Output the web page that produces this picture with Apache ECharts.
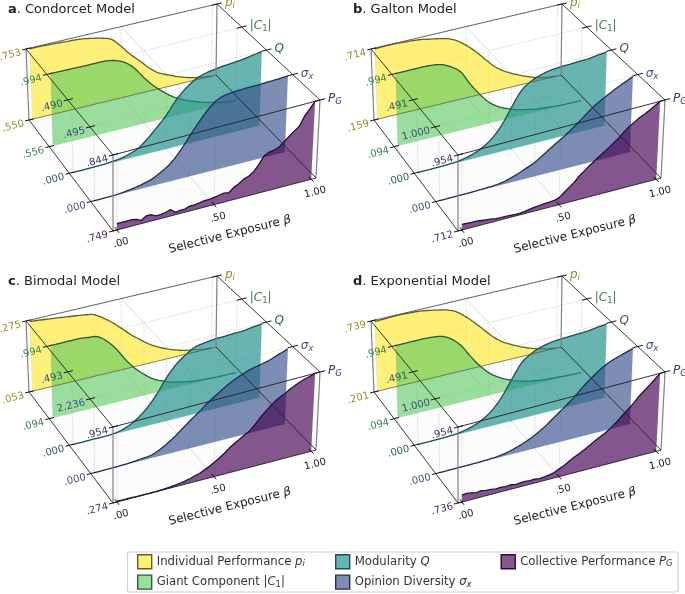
<!DOCTYPE html>
<html><head><meta charset="utf-8">
<style>html,body{margin:0;padding:0;background:#fff}#c{width:685px;height:594px}</style>
<script src="https://cdn.jsdelivr.net/npm/echarts@6/dist/echarts.min.js"></script>
</head><body><div id="c"></div>
<script>
// ---------- data ----------
const beta=[0,.05,.1,.15,.2,.25,.3,.35,.4,.45,.5,.55,.6,.65,.7,.75,.8,.85,.9,.95,1];
const betaFine=[0,.025,.05,.075,.1,.125,.15,.175,.2,.225,.25,.275,.3,.325,.35,.375,.4,.425,.45,.475,.5,.525,.55,.575,.6,.625,.65,.675,.7,.725,.75,.775,.8,.825,.85,.875,.9,.925,.95,.975,1];

const a_pi=[.751,.751,.750,.749,.747,.746,.743,.738,.732,.722,.696,.667,.643,.617,.597,.585,.574,.565,.558,.553,.550];
const a_c1=[.994,.993,.992,.991,.990,.990,.988,.976,.950,.902,.832,.771,.722,.679,.648,.624,.604,.587,.574,.563,.556];
const a_q=[0,0,0,.001,.005,.012,.027,.051,.100,.159,.225,.306,.368,.412,.436,.448,.456,.461,.468,.478,.488];
const a_s=[0,0,.001,.006,.015,.027,.045,.077,.119,.186,.270,.351,.421,.465,.478,.483,.485,.485,.488,.490,.495];
const a_pg=[.757,.757,.757,.757,.756,.753,.757,.757,.754,.754,.755,.757,.752,.753,.753,.755,.755,.756,.757,.757,.758,.759,.760,.759,.764,.767,.771,.773,.777,.784,.793,.796,.797,.799,.804,.809,.814,.818,.829,.836,.844];

const b_pi=[.708,.711,.711,.708,.703,.697,.683,.670,.653,.620,.567,.503,.428,.356,.303,.264,.231,.203,.181,.167,.159];
const b_c1=[.994,.994,.994,.994,.985,.963,.904,.814,.634,.481,.355,.274,.220,.180,.153,.130,.117,.105,.099,.097,.094];
const b_q=[0,0,0,.002,.005,.015,.032,.061,.106,.177,.275,.368,.415,.442,.457,.464,.466,.469,.471,.479,.486];
const b_s=[0,0,0,.002,.005,.010,.017,.040,.080,.130,.185,.265,.350,.430,.520,.620,.725,.800,.870,.930,.990];
const b_pg=[.730,.729,.728,.728,.726,.724,.722,.720,.719,.719,.718,.717,.717,.719,.722,.724,.725,.727,.728,.729,.734,.746,.758,.770,.785,.797,.809,.820,.831,.841,.852,.863,.874,.889,.901,.910,.920,.927,.935,.944,.954];

const c_pi=[.271,.268,.265,.262,.258,.255,.251,.245,.228,.207,.182,.156,.134,.113,.097,.084,.074,.066,.061,.056,.053];
const c_c1=[.994,.994,.994,.994,.981,.963,.882,.756,.594,.459,.355,.270,.216,.175,.148,.126,.112,.105,.099,.097,.094];
const c_q=[0,0,0,0,.001,.010,.032,.069,.123,.197,.288,.360,.409,.446,.458,.466,.468,.471,.473,.481,.488];
const c_s=[0,0,.004,.011,.027,.056,.089,.212,.380,.593,.816,1.029,1.252,1.442,1.621,1.755,1.867,1.934,2.001,2.102,2.202];
const c_pg=[.281,.279,.279,.278,.277,.277,.277,.277,.277,.279,.281,.284,.288,.294,.301,.311,.325,.335,.356,.376,.400,.427,.458,.492,.522,.546,.573,.594,.634,.682,.723,.764,.798,.825,.845,.872,.893,.913,.927,.940,.954];

const d_pi=[.728,.731,.734,.734,.731,.726,.715,.701,.685,.653,.599,.535,.465,.397,.346,.309,.276,.249,.228,.212,.201];
const d_c1=[.994,.994,.994,.994,.985,.967,.904,.796,.634,.490,.373,.292,.234,.189,.157,.135,.121,.112,.105,.099,.094];
const d_q=[0,0,0,.002,.005,.015,.032,.061,.106,.177,.272,.365,.412,.440,.455,.462,.465,.468,.471,.479,.486];
const d_s=[0,0,0,.002,.004,.008,.015,.035,.070,.115,.175,.250,.345,.440,.540,.660,.760,.850,.910,.950,.990];
const d_pg=[.756,.757,.755,.752,.754,.751,.750,.748,.749,.747,.749,.746,.747,.748,.746,.747,.745,.746,.748,.751,.758,.764,.772,.780,.786,.793,.801,.809,.817,.824,.832,.843,.854,.867,.878,.891,.906,.917,.929,.941,.954];

const a_low=[.550,.556,0,0,.749],   a_high=[.753,.994,.490,.495,.844];
const b_low=[.159,.094,0,0,.712],   b_high=[.714,.994,.491,1.000,.954];
const c_low=[.053,.094,0,0,.274],   c_high=[.275,.994,.493,2.236,.954];
const d_low=[.201,.094,0,0,.736],   d_high=[.739,.994,.491,1.000,.954];
const a_lowText=['.550','.556','.000','.000','.749'], a_highText=['.753','.994','.490','.495','.844'];
const b_lowText=['.159','.094','.000','.000','.712'], b_highText=['.714','.994','.491','1.000','.954'];
const c_lowText=['.053','.094','.000','.000','.274'], c_highText=['.275','.994','.493','2.236','.954'];
const d_lowText=['.201','.094','.000','.000','.736'], d_highText=['.739','.994','.491','1.000','.954'];
const betaTicks=[0,.5,1], betaTickText=['.00','.50','1.00'];
const seriesNames=['Individual Performance','Giant Component','Modularity','Opinion Diversity','Collective Performance'];
const panelTitles=['Condorcet Model','Galton Model','Bimodal Model','Exponential Model'];
const panelKeys=['a','b','c','d'];

// ---------- styling and geometry ----------
const fills=['rgba(253,231,37,.62)','rgba(94,201,98,.62)','rgba(33,145,140,.68)','rgba(59,82,139,.66)','rgba(68,1,84,.66)'];
const edges=['#6b5f14','#245c35','#17505a','#1c2e5c','#2b0a3f'];
const textCols=['#9a8a28','#3f7f4d','#2c6068','#3d4f80','#4b2a68'];
const depths=[0,.24,.48,.735,1];
const offX=[0,345,0,345], offY=[0,0,272,272];
const BOX={blt:[26,49],blb:[29,120],brt:[217,4],brb:[216,75],flt:[113,155],flb:[113,231],frt:[320,100],frb:[316,178]};
const XMIN=-.02,XMAX=1.025;
const lerp=(a,b,t)=>[a[0]+(b[0]-a[0])*t,a[1]+(b[1]-a[1])*t];
function proj(p,u,d,z){
  const bt=lerp(BOX.blt,BOX.brt,u),bb=lerp(BOX.blb,BOX.brb,u),ft=lerp(BOX.flt,BOX.frt,u),fb=lerp(BOX.flb,BOX.frb,u);
  const t=lerp(bt,ft,d),b=lerp(bb,fb,d),q=lerp(b,t,z);
  return [q[0]+offX[p],q[1]+offY[p]];
}
const uOf=x=>(x-XMIN)/(XMAX-XMIN);
function spline(pts,n){
  const out=[];
  for(let i=0;i<pts.length-1;i++){
    const p0=pts[Math.max(i-1,0)],p1=pts[i],p2=pts[i+1],p3=pts[Math.min(i+2,pts.length-1)];
    for(let k=0;k<n;k++){
      const t=k/n,t2=t*t,t3=t2*t;
      out.push([0,1].map(j=>.5*(2*p1[j]+(p2[j]-p0[j])*t+(2*p0[j]-5*p1[j]+4*p2[j]-p3[j])*t2+(3*p1[j]-p0[j]-3*p2[j]+p3[j])*t3)));
    }
  }
  out.push(pts[pts.length-1]);
  return out;
}
function ribbon(p,l,xs,ys,smooth){
  return function(params,api){
    if(params.dataIndex!==0) return null;
    const cs=params.coordSys;
    let top=xs.map((x,i)=>{
      const c=api.coord([x,ys[i]]);
      return proj(p,(c[0]-cs.x)/cs.width,depths[l],(cs.y+cs.height-c[1])/cs.height);
    });
    if(smooth) top=spline(top,5);
    const b0=proj(p,uOf(0),depths[l],0),b1=proj(p,uOf(1),depths[l],0);
    return {type:'group',children:[
      {type:'polygon',shape:{points:[b0].concat(top,[b1])},style:{fill:fills[l],stroke:null}},
      {type:'polyline',shape:{points:top},style:{fill:null,stroke:edges[l],lineWidth:1.3,lineJoin:'round'}}
    ]};
  };
}
const seg=(a,b,style)=>({type:'line',shape:{x1:a[0],y1:a[1],x2:b[0],y2:b[1]},style:Object.assign({fill:null},style)});
function backFrame(p){
  return function(params){
    const kids=[];
    kids.push({type:'polygon',shape:{points:[proj(p,0,0,0),proj(p,1,0,0),proj(p,1,1,0),proj(p,0,1,0)]},style:{fill:'#fcfcfc',stroke:null}});
    const dot={stroke:'#b4b4b4',lineWidth:.7,lineDash:[1,1.5]};
    const pale={stroke:'#cfcfcf',lineWidth:.7};
    depths.forEach(d=>{
      kids.push(seg(proj(p,0,d,1),proj(p,1,d,1),dot));
      kids.push(seg(proj(p,0,d,0),proj(p,1,d,0),dot));
      betaTicks.forEach(x=>kids.push(seg(proj(p,uOf(x),d,0),proj(p,uOf(x),d,1),dot)));
    });
    kids.push(seg(proj(p,uOf(.5),0,1),proj(p,uOf(.5),1,1),pale));
    kids.push(seg(proj(p,uOf(.5),0,0),proj(p,uOf(.5),1,0),pale));
    return {type:'group',children:kids};
  };
}
const ROT=.245;
const baseRich={i:{fontStyle:'italic',fontFamily:'DejaVu Sans',fontSize:12},s:{fontStyle:'italic',fontFamily:'DejaVu Sans',fontSize:8.5,padding:[6,0,0,0]},n:{fontFamily:'DejaVu Sans',fontSize:8.5,padding:[6,0,0,0]},r:{fontFamily:'DejaVu Sans',fontSize:12}};
const axisNames=['{i|p}{s|i}','{r||}{i|C}{n|1}{r||}','{i|Q}','{i|σ}{s|x}','{i|P}{s|G}'];
function text(x,y,str,o){
  const rich={};
  Object.keys(baseRich).forEach(k=>rich[k]=Object.assign({},baseRich[k],{fill:o.fill}));
  return {type:'text',x:x,y:y,rotation:o.rot||0,style:{text:str,x:0,y:0,fill:o.fill,font:(o.font||'10px "DejaVu Sans"'),align:o.align||'center',verticalAlign:'middle',rich:o.rich||rich}};
}
function frontFrame(p,lowText,highText){
  return function(params){
    const kids=[];
    const dark={stroke:'#222',lineWidth:.9}, grey={stroke:'#808080',lineWidth:1.2};
    // vertical box edges
    [[0,0],[1,0],[0,1],[1,1]].forEach(c=>kids.push(seg(proj(p,c[0],c[1],0),proj(p,c[0],c[1],1),grey)));
    // ceiling and floor edges
    kids.push(seg(proj(p,0,0,1),proj(p,1,0,1),{stroke:'#444',lineWidth:.8}));
    kids.push(seg(proj(p,0,1,1),proj(p,1,1,1),dark));
    kids.push(seg(proj(p,0,0,1),proj(p,0,1,1),dark));
    kids.push(seg(proj(p,1,0,1),proj(p,1,1,1),dark));
    kids.push(seg(proj(p,0,0,0),proj(p,1,0,0),{stroke:'#555',lineWidth:.7}));
    kids.push(seg(proj(p,0,1,0),proj(p,1,1,0),dark));
    kids.push(seg(proj(p,0,0,0),proj(p,0,1,0),dark));
    kids.push(seg(proj(p,1,0,0),proj(p,1,1,0),dark));
    // layer ticks and labels
    depths.forEach((d,l)=>{
      const tk={stroke:'#111',lineWidth:1};
      kids.push(seg(proj(p,-.02,d,1),proj(p,.025,d,1),tk));
      kids.push(seg(proj(p,.975,d,1),proj(p,1.025,d,1),tk));
      kids.push(seg(proj(p,-.02,d,0),proj(p,.025,d,0),tk));
      const hi=proj(p,0,d,1),lo=proj(p,0,d,0),rt=proj(p,1,d,1);
      kids.push(text(hi[0]-5,hi[1]+3.5,highText[l],{fill:textCols[l],rot:ROT,align:'right'}));
      kids.push(text(lo[0]-5,lo[1]+3.5,lowText[l],{fill:textCols[l],rot:ROT,align:'right'}));
      kids.push(text(rt[0]+8,rt[1]-1,axisNames[l],{fill:textCols[l],align:'left',font:'12px "DejaVu Sans"'}));
    });
    // beta ticks and labels
    betaTicks.forEach((x,i)=>{
      const u=uOf(x),a=proj(p,u,.975,0),b=proj(p,u,1.025,0),f=proj(p,u,1,0);
      kids.push(seg(a,b,{stroke:'#111',lineWidth:1}));
      kids.push(text(f[0]+4,f[1]+13,betaTickText[i],{fill:'#222',rot:ROT}));
    });
    const m=proj(p,uOf(.5),1,0);
    kids.push(text(m[0]+16,m[1]+30,'{t|Selective Exposure }{b|β}',{fill:'#222',rot:ROT,
      rich:{t:{fontFamily:'DejaVu Sans',fontSize:12,fill:'#222'},b:{fontFamily:'DejaVu Sans',fontStyle:'italic',fontSize:12,fill:'#222'}}}));
    // panel title
    kids.push({type:'text',x:8+offX[p],y:10+offY[p],style:{text:'{k|'+panelKeys[p]+'}{t|. '+panelTitles[p]+'}',x:0,y:0,align:'left',verticalAlign:'middle',
      rich:{k:{fontFamily:'DejaVu Sans',fontWeight:'bold',fontSize:13,fill:'#222'},t:{fontFamily:'DejaVu Sans',fontSize:13,fill:'#222'}}}});
    return {type:'group',children:kids};
  };
}

// ---------- option ----------
const grids=[],xAxes=[],yAxes=[],series=[];
const allData=[[a_pi,a_c1,a_q,a_s,a_pg],[b_pi,b_c1,b_q,b_s,b_pg],[c_pi,c_c1,c_q,c_s,c_pg],[d_pi,d_c1,d_q,d_s,d_pg]];
const allLow=[a_low,b_low,c_low,d_low],allHigh=[a_high,b_high,c_high,d_high];
const allLowText=[a_lowText,b_lowText,c_lowText,d_lowText],allHighText=[a_highText,b_highText,c_highText,d_highText];
allData.forEach((layers,p)=>{
  grids.push({left:20+offX[p],top:20+offY[p],width:290,height:200,show:false});
  xAxes.push({type:'value',gridIndex:p,min:XMIN,max:XMAX,show:false});
  const yStart=yAxes.length;
  layers.forEach((_,l)=>yAxes.push({type:'value',gridIndex:p,min:allLow[p][l],max:allHigh[p][l],show:false,scale:true}));
  series.push({type:'custom',name:'frame'+p,silent:true,xAxisIndex:p,yAxisIndex:yStart,z:1,clip:false,data:[[0,allLow[p][0]]],renderItem:backFrame(p)});
  layers.forEach((ys,l)=>{
    const xs=l===4?betaFine:beta;
    series.push({type:'custom',name:seriesNames[l],silent:true,xAxisIndex:p,yAxisIndex:yStart+l,z:2+l*.1,clip:false,
      itemStyle:{color:fills[l]},
      data:ys.map((y,i)=>[xs[i],y]),encode:{x:0,y:1},renderItem:ribbon(p,l,xs,ys,l!==4)});
  });
  series.push({type:'custom',name:'edges'+p,silent:true,xAxisIndex:p,yAxisIndex:yStart,z:3,clip:false,data:[[0,allLow[p][0]]],renderItem:frontFrame(p,allLowText[p],allHighText[p])});
});
const LF=11.7;
const legendRich={m:{fontFamily:'DejaVu Sans',fontStyle:'italic',fontSize:LF,fill:'#333',lineHeight:14},s:{fontFamily:'DejaVu Sans',fontStyle:'italic',fontSize:8.5,fill:'#333',lineHeight:14,padding:[5,0,0,0]},n:{fontFamily:'DejaVu Sans',fontSize:8.5,fill:'#333',lineHeight:14,padding:[5,0,0,0]}};
const legendText={'Individual Performance':'Individual Performance {m|p}{s|i}','Giant Component':'Giant Component |{m|C}{n|1}|','Modularity':'Modularity {m|Q}','Opinion Diversity':'Opinion Diversity {m|σ}{s|x}','Collective Performance':'Collective Performance {m|P}{s|G}'};
const legendItem=i=>({name:seriesNames[i],icon:'rect',itemStyle:{color:fills[i],borderColor:edges[i],borderWidth:1.4}});
const legendCommon={orient:'vertical',itemWidth:14,itemHeight:14,itemGap:5,padding:0,selectedMode:false,formatter:n=>legendText[n],
  textStyle:{fontFamily:'DejaVu Sans',fontSize:LF,color:'#333',lineHeight:14,rich:legendRich}};
const option={
  animation:false,backgroundColor:'#fff',
  grid:grids,xAxis:xAxes,yAxis:yAxes,series:series,
  legend:[
    Object.assign({left:137,top:554,data:[legendItem(0),legendItem(1)]},legendCommon),
    Object.assign({left:335,top:554,data:[legendItem(2),legendItem(3)]},legendCommon),
    Object.assign({left:500.5,top:554,data:[legendItem(4)]},legendCommon)
  ],
  graphic:[{type:'rect',silent:true,z:-1,shape:{x:127.5,y:552,width:550.5,height:40,r:2},style:{fill:'#fff',stroke:'#d0d0d0',lineWidth:1.2}}]
};
const chart=echarts.init(document.getElementById('c'),null,{renderer:'canvas'});
chart.setOption(option);
</script></body></html>
